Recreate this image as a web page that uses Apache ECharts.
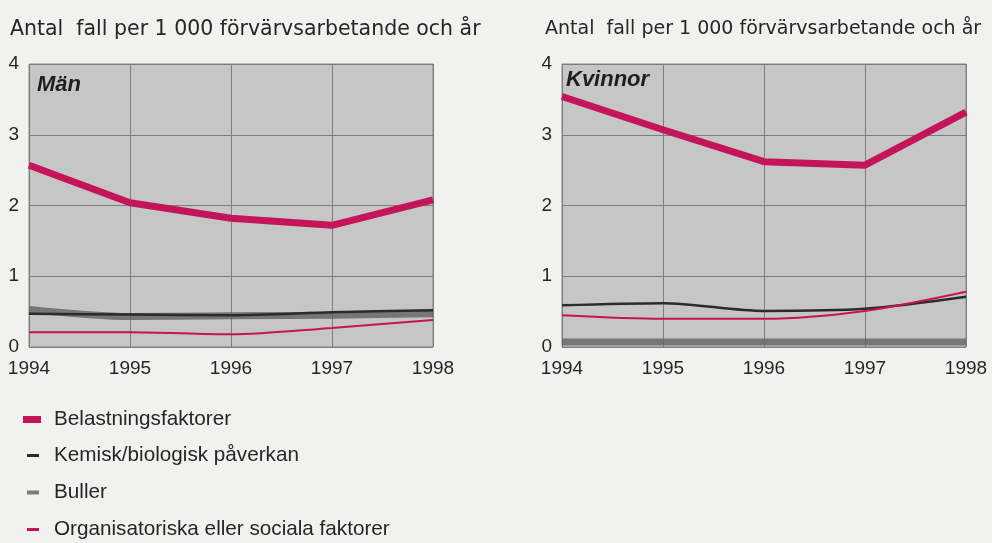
<!DOCTYPE html>
<html>
<head>
<meta charset="utf-8">
<script src="https://cdn.jsdelivr.net/npm/echarts@6/dist/echarts.min.js"></script>
<style>
html,body{margin:0;padding:0;background:#f1f1ef;}
#c{width:992px;height:543px;}
</style>
</head>
<body>
<div id="c"></div>
<script>
const years = ['1994','1995','1996','1997','1998'];
const yTicks = [0,1,2,3,4];
const seriesNames = ['Belastningsfaktorer','Kemisk/biologisk påverkan','Buller','Organisatoriska eller sociala faktorer'];
const yAxisTitle = 'Antal  fall per 1 000 förvärvsarbetande och år';
const panelTitles = ['Män','Kvinnor'];

// Män
const menBelastning = [2.57, 2.04, 1.82, 1.72, 2.08];
const menKemisk = [0.47, 0.46, 0.45, 0.49, 0.52];
const menBuller = [0.53, 0.43, 0.44, 0.45, 0.47];
const menOrganisatoriska = [0.21, 0.21, 0.18, 0.27, 0.38];

// Kvinnor
const womenBelastning = [3.54, 3.07, 2.62, 2.57, 3.32];
const womenKemisk = [0.59, 0.62, 0.51, 0.54, 0.71];
const womenBuller = [0.07, 0.07, 0.07, 0.07, 0.07];
const womenOrganisatoriska = [0.45, 0.40, 0.40, 0.51, 0.78];

const RED = '#c4145a';
const TXT = '#262626';
const FONT = '"Liberation Sans", Arial, sans-serif';
const WIDEFONT = '"DejaVu Sans", "Liberation Sans", sans-serif';

const chart = echarts.init(document.getElementById('c'));

const grids = [
  {left: 29, top: 64, width: 404, height: 283},
  {left: 562, top: 64, width: 404, height: 283}
];

function xAxis(i){
  return {
    type:'category', gridIndex:i, data:years, boundaryGap:false,
    axisLine:{show:false}, axisTick:{show:false},
    splitLine:{show:true, lineStyle:{color:'#7d7d7d', width:1}},
    axisLabel:{color:TXT, fontSize:19, fontFamily:FONT, margin:12, showMaxLabel:true, showMinLabel:true}
  };
}
function yAxis(i){
  return {
    type:'value', gridIndex:i, min:yTicks[0], max:yTicks[yTicks.length-1], interval:1,
    axisLine:{show:false}, axisTick:{show:false},
    splitLine:{show:true, lineStyle:{color:'#7d7d7d', width:1}},
    axisLabel:{color:TXT, fontSize:19, fontFamily:FONT, margin:10}
  };
}
function seriesFor(i, bel, kem, bul, org){
  return [
    {name:seriesNames[2], type:'line', xAxisIndex:i, yAxisIndex:i, data:bul, smooth:0.3, symbol:'none',
     lineStyle:{color:'#626262', width:7, opacity:0.8}, itemStyle:{color:'#7a7a7a'}, z:2},
    {name:seriesNames[1], type:'line', xAxisIndex:i, yAxisIndex:i, data:kem, smooth:0.3, symbol:'none',
     lineStyle:{color:'#2b2b2b', width:2.5}, itemStyle:{color:'#2b2b2b'}, z:3},
    {name:seriesNames[3], type:'line', xAxisIndex:i, yAxisIndex:i, data:org, smooth:0.3, symbol:'none',
     lineStyle:{color:RED, width:2}, itemStyle:{color:RED}, z:4},
    {name:seriesNames[0], type:'line', xAxisIndex:i, yAxisIndex:i, data:bel, symbol:'none',
     lineStyle:{color:RED, width:7, join:'round'}, itemStyle:{color:RED}, z:5}
  ];
}

function legendItem(name, top, iconLeft, w, h, color, pad){
  return {
    left: iconLeft, top: top, orient:'vertical', icon:'rect',
    itemWidth:w, itemHeight:h, itemGap:0,
    data:[{name:name, itemStyle:{color:color}}],
    textStyle:{color:TXT, fontSize:20.7, fontFamily:FONT, padding:[0,0,0,pad]},
    selectedMode:false
  };
}

chart.setOption({
  backgroundColor:'#f1f1ef',
  animation:false,
  title:[
    {text:yAxisTitle, left:5, top:14, textStyle:{color:TXT, fontSize:20.5, fontWeight:'normal', fontFamily:WIDEFONT}},
    {text:yAxisTitle, left:540, top:15, textStyle:{color:TXT, fontSize:19, fontWeight:'normal', fontFamily:WIDEFONT}},
    {text:panelTitles[0], left:32, top:69, textStyle:{color:'#1e1e1e', fontSize:22, fontWeight:'bold', fontStyle:'italic', fontFamily:FONT}},
    {text:panelTitles[1], left:561, top:64, textStyle:{color:'#1e1e1e', fontSize:22, fontWeight:'bold', fontStyle:'italic', fontFamily:FONT}}
  ],
  grid: grids.map(g => Object.assign({show:true, backgroundColor:'#c6c6c6', borderColor:'#8a8a8a', borderWidth:1}, g)),
  xAxis:[xAxis(0), xAxis(1)],
  yAxis:[yAxis(0), yAxis(1)],
  legend:[
    legendItem(seriesNames[0], 404, 18, 18, 7, RED, 8),
    legendItem(seriesNames[1], 440, 22, 12, 3, '#2b2b2b', 10),
    legendItem(seriesNames[2], 477, 22, 12, 4, '#7a7a7a', 10),
    legendItem(seriesNames[3], 514, 22, 12, 3, RED, 10)
  ],
  series:[].concat(
    seriesFor(0, menBelastning, menKemisk, menBuller, menOrganisatoriska),
    seriesFor(1, womenBelastning, womenKemisk, womenBuller, womenOrganisatoriska)
  )
});
</script>
</body>
</html>
